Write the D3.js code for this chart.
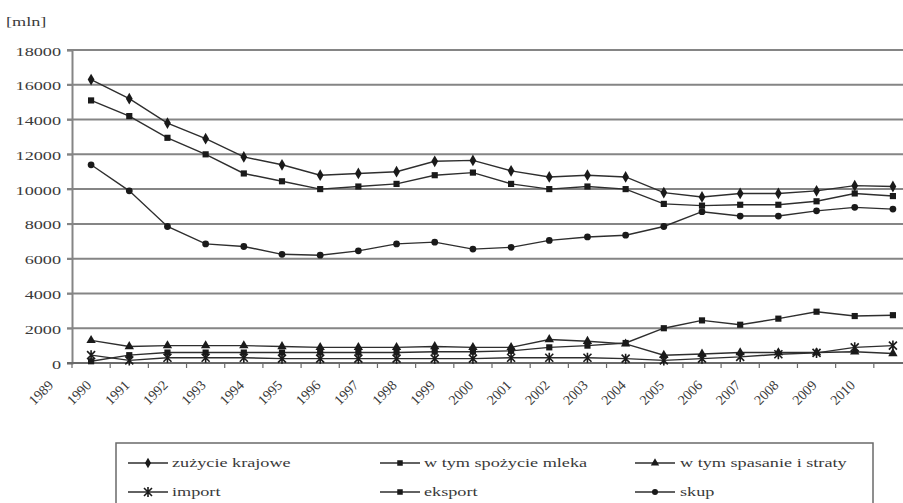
<!DOCTYPE html>
<html><head><meta charset="utf-8">
<script src="https://cdn.jsdelivr.net/npm/d3@7"></script>
<style>body{margin:0;background:#fff}text{font-family:"Liberation Serif","DejaVu Serif",serif;fill:#3a3a3a}</style>
</head><body><svg id="c" width="903" height="503"></svg>
<script>
const years = ["1989","1990","1991","1992","1993","1994","1995","1996","1997","1998","1999","2000","2001","2002","2003","2004","2005","2006","2007","2008","2009","2010"];
const zuzycieKrajowe = [16300,15200,13800,12900,11850,11400,10800,10900,11000,11600,11650,11050,10700,10800,10700,9800,9550,9750,9750,9900,10200,10150];
const spozycieMleka = [15100,14200,12950,12000,10900,10450,10000,10150,10300,10800,10950,10300,10000,10150,10000,9150,9050,9100,9100,9300,9750,9600];
const spasanieStraty = [1300,950,1000,1000,1000,950,900,900,900,950,900,900,1350,1250,1100,450,520,600,600,600,650,550];
const importV = [450,150,300,300,300,250,250,250,250,250,250,300,300,300,250,150,250,350,500,580,900,1000];
const eksport = [100,450,600,600,600,600,600,600,600,650,650,700,900,1000,1150,2000,2450,2200,2550,2950,2700,2750];
const skup = [11400,9900,7850,6850,6700,6250,6200,6450,6850,6950,6550,6650,7050,7250,7350,7850,8700,8450,8450,8750,8950,8850];
const yTicks = [0,2000,4000,6000,8000,10000,12000,14000,16000,18000];
const seriesNames = ["zużycie krajowe","w tym spożycie mleka","w tym spasanie i straty","import","eksport","skup"];
const seriesMarkers = ["diamond","square","triangle","asterisk","square","circle"];
const seriesData = [zuzycieKrajowe, spozycieMleka, spasanieStraty, importV, eksport, skup];

const svg = d3.select("#c");
const SX = 1.4;
const x = d3.scaleBand().domain(years).range([72, 912]);
const y = d3.scaleLinear().domain([0, 18000]).range([363, 50]);
const cx = d => x(d) + x.bandwidth()/2;

// gridlines
svg.append("g").selectAll("line").data(yTicks.filter(t=>t>0)).join("line")
  .attr("x1", 67).attr("x2", 903).attr("y1", d=>y(d)).attr("y2", d=>y(d))
  .attr("stroke", "#858585").attr("stroke-width", 2);

// y axis
const ya = svg.append("g").attr("transform","translate(72,0)")
  .call(d3.axisLeft(y).tickValues(yTicks).tickSize(5).tickFormat(d3.format("d")));
ya.select(".domain").attr("stroke","#858585").attr("stroke-width",2);
ya.selectAll(".tick line").attr("stroke","#858585").attr("stroke-width",1.5);
ya.selectAll(".tick text").attr("x",0).attr("dy",0)
  .attr("transform","translate(-11,5) scale("+SX+",1)")
  .attr("font-size",13).attr("font-family","Liberation Serif").attr("fill","#3a3a3a");

// x axis
const xa = svg.append("g").attr("transform","translate(0,363)");
xa.append("line").attr("x1",67).attr("x2",903).attr("stroke","#6a6a6a").attr("stroke-width",2);
xa.selectAll("line.t").data(years).join("line").attr("class","t")
  .attr("x1", d=>x(d)).attr("x2", d=>x(d)).attr("y1",0).attr("y2",5)
  .attr("stroke","#6a6a6a").attr("stroke-width",1.2);
xa.selectAll("text").data(years).join("text")
  .attr("transform", d=>"translate("+(cx(d)-37)+",23) rotate(-45)")
  .attr("text-anchor","end").attr("font-size",14).text(d=>d);

// unit label
svg.append("text").attr("transform","translate(6,26) scale("+SX+",1)").attr("font-size",13).text("[mln]");

// marker drawing
function marker(g, type, px, py, s) {
  s = s || 1;
  if (type === "diamond") g.append("path").attr("d", d3.symbol(d3.symbolDiamond, 40*s)()).attr("transform","translate("+px+","+py+")").attr("fill","#1a1a1a");
  else if (type === "square") g.append("path").attr("d", d3.symbol(d3.symbolSquare, 38*s)()).attr("transform","translate("+px+","+py+")").attr("fill","#1a1a1a");
  else if (type === "triangle") g.append("path").attr("d", d3.symbol(d3.symbolTriangle, 38*s)()).attr("transform","translate("+px+","+py+")").attr("fill","#1a1a1a");
  else if (type === "circle") g.append("path").attr("d", d3.symbol(d3.symbolCircle, 36*s)()).attr("transform","translate("+px+","+py+")").attr("fill","#1a1a1a");
  else if (type === "asterisk") {
    const r = 4;
    g.append("path").attr("d","M"+(px-r)+","+(py-r)+"L"+(px+r)+","+(py+r)+"M"+(px-r)+","+(py+r)+"L"+(px+r)+","+(py-r)+"M"+px+","+(py-r-1)+"L"+px+","+(py+r+1))
      .attr("stroke","#1a1a1a").attr("stroke-width",1.6).attr("fill","none");
  }
}

const line = d3.line().x((d,i)=>cx(years[i])).y(d=>y(d));
const plot = svg.append("g");
seriesData.forEach((arr, si) => {
  plot.append("path").attr("d", line(arr)).attr("fill","none").attr("stroke","#2e2e2e").attr("stroke-width",1.4);
});
seriesData.forEach((arr, si) => {
  arr.forEach((v,i) => marker(plot, seriesMarkers[si], cx(years[i]), y(v)));
});

// legend
const lg = svg.append("g");
lg.append("rect").attr("x",116).attr("y",443).attr("width",757).attr("height",80)
  .attr("fill","#fff").attr("stroke","#6a6a6a").attr("stroke-width",1.5);
const cols = [[128,172],[380,424],[635,680]];
const rows = [463, 492];
seriesNames.forEach((n, i) => {
  const c = cols[i % 3], r = rows[Math.floor(i / 3)];
  lg.append("line").attr("x1",c[0]).attr("x2",c[0]+40).attr("y1",r).attr("y2",r).attr("stroke","#2e2e2e").attr("stroke-width",1.4);
  marker(lg, seriesMarkers[i], c[0]+20, r, 0.8);
  lg.append("text").attr("transform","translate("+c[1]+","+(r+4)+") scale("+SX+",1)").attr("font-size",13).text(n);
});
</script></body></html>
